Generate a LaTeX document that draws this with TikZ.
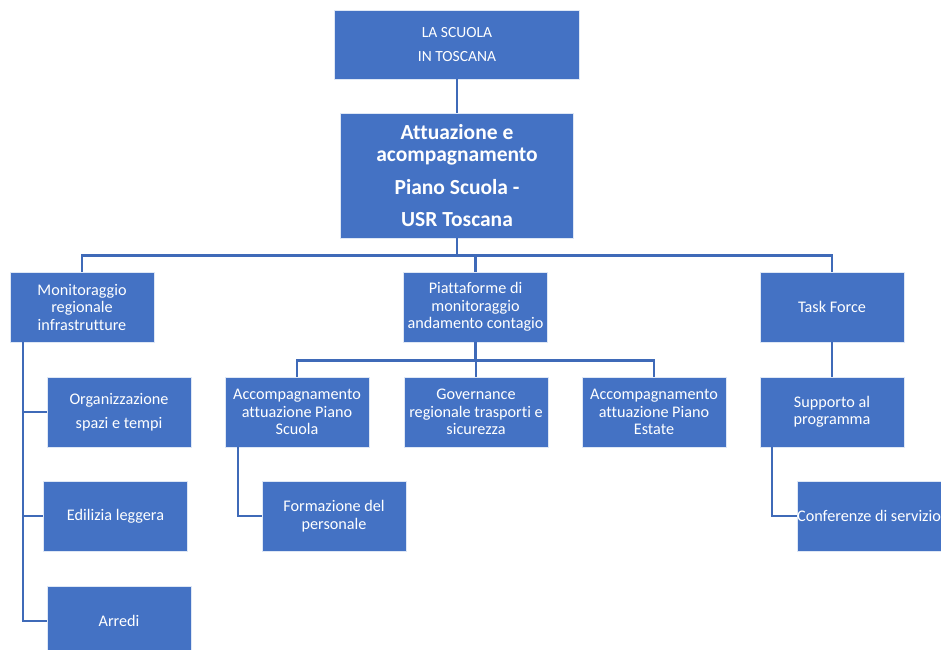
\documentclass[tikz,border=0pt]{standalone}
\usepackage{fontspec}
\setmainfont{Carlito}[Ligatures=NoCommon]
\definecolor{usrcolor0000}{RGB}{68,114,196}
\definecolor{usrcolor0001}{RGB}{222,231,245}
\definecolor{usrcolor0002}{RGB}{63,106,184}
\begin{document}
\begin{tikzpicture}[yscale=-1
,ostyle0/.style={draw=usrcolor0001,fill=usrcolor0000,line width=0.6pt,text=white,align=center,inner sep=0pt,minimum width=144pt,minimum height=70pt,font=\fontsize{16.2}{17.5}\selectfont}
,ostyle1/.style={ostyle0,minimum width=245pt,minimum height=69pt,font=\fontsize{15.5}{16}\selectfont}
,ostyle2/.style={ostyle0,minimum width=233pt,minimum height=125pt,font=\fontsize{21.5}{22}\selectfont\bfseries}
,ostyle3/.style={color=usrcolor0002,line width=2.4pt}
]
\useasboundingbox (0pt,0pt) rectangle (941pt,649pt);
\clip (0pt,0pt) rectangle (941pt,649pt);
% top levels
\node[ostyle1] (scuola) at (457pt,44.5pt) {LA SCUOLA\\[8pt]IN TOSCANA};
\node[ostyle2] (attuazione) at (457pt,175.5pt) {Attuazione e\\acompagnamento\\[11pt]Piano Scuola -\\[10pt]USR Toscana};
% second level
\node[ostyle0] (monitoraggio) at (82pt,307pt) {Monitoraggio\\regionale\\infrastrutture};
\node[ostyle0] (piattaforme) at (475.5pt,307pt) {Piattaforme di\\monitoraggio\\andamento contagio};
\node[ostyle0] (taskforce) at (832pt,307pt) {Task Force};
% third level
\node[ostyle0] (organizzazione) at (119pt,412pt) {Organizzazione\\[7pt]spazi e tempi};
\node[ostyle0] (edilizia) at (115.5pt,516pt) {Edilizia leggera};
\node[ostyle0] (arredi) at (119pt,621pt) {Arredi};
\node[ostyle0] (pianoscuola) at (297pt,412pt) {Accompagnamento\\attuazione Piano\\Scuola};
\node[ostyle0] (governance) at (476pt,412pt) {Governance\\regionale trasporti e\\sicurezza};
\node[ostyle0] (pianoestate) at (654pt,412pt) {Accompagnamento\\attuazione Piano\\Estate};
\node[ostyle0] (supporto) at (832pt,412pt) {Supporto al\\programma};
% fourth level
\node[ostyle0] (formazione) at (334pt,516pt) {Formazione del\\personale};
\node[ostyle0] (conferenze) at (869pt,516pt) {Conferenze di servizio};
% connectors
\draw[ostyle3] (scuola.south) -- (attuazione.north);
\draw[ostyle3] (attuazione.south) -- ++(0,17pt) coordinate (bus0);
\draw[ostyle3] (monitoraggio.north) |- (bus0) -| (taskforce.north);
\draw[ostyle3] (piattaforme.north) -- (piattaforme.north |- bus0);
\draw[ostyle3] ([xshift=13pt]monitoraggio.south west) |- (organizzazione.west);
\draw[ostyle3] ([xshift=13pt]monitoraggio.south west) |- (edilizia.west);
\draw[ostyle3] ([xshift=13pt]monitoraggio.south west) |- (arredi.west);
\draw[ostyle3] (piattaforme.south) -- ++(0,18pt) coordinate (bus1);
\draw[ostyle3] (pianoscuola.north) |- (bus1) -| (pianoestate.north);
\draw[ostyle3] (governance.north) -- (governance.north |- bus1);
\draw[ostyle3] ([xshift=13pt]pianoscuola.south west) |- (formazione.west);
\draw[ostyle3] (taskforce.south) -- (supporto.north);
\draw[ostyle3] ([xshift=12pt]supporto.south west) |- (conferenze.west);
\end{tikzpicture}
\end{document}
